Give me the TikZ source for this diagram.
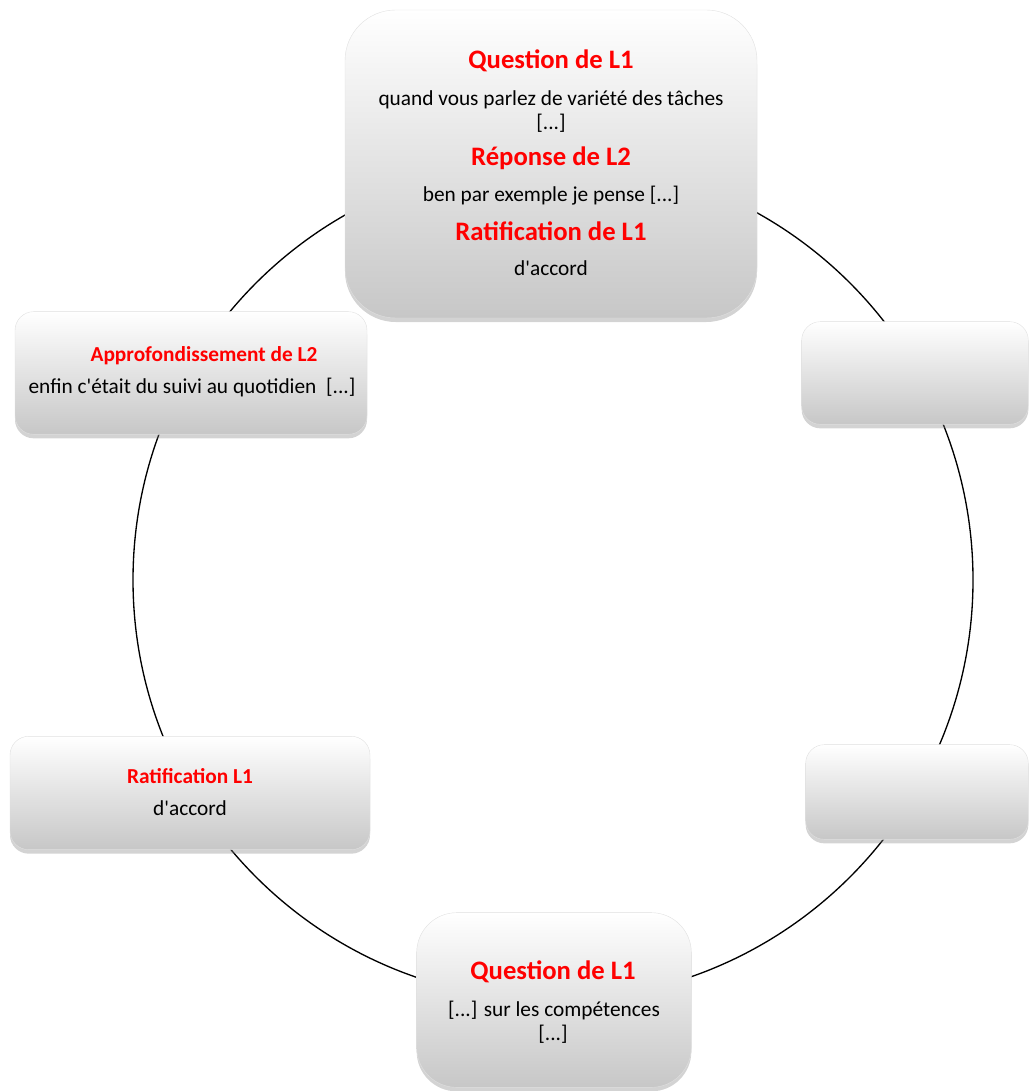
\documentclass[tikz,border=0pt]{standalone}
\usepackage{fontspec}
\setmainfont{Carlito}[Ligatures=TeXOff]
\usetikzlibrary{shadows}

\tikzset{
  boite/.style={rounded corners=#1, top color=white, bottom color=black!22,
    draw=black!12, line width=0.3pt, inner sep=0pt,
    drop shadow={opacity=0.35, shadow xshift=0pt, shadow yshift=-3pt}},
  boite/.default=14pt,
  titre/.style={text=red, font=\bfseries\fontsize{20}{24}\selectfont, inner sep=0pt},
  petittitre/.style={text=red, font=\bfseries\fontsize{16}{19}\selectfont, inner sep=0pt},
  texte/.style={font=\fontsize{16}{19}\selectfont, inner sep=0pt},
  cercle/.style={draw=black, line width=1pt}
}

\begin{document}
\begin{tikzpicture}[x=0.75pt,y=-0.75pt]
\useasboundingbox (0,0) rectangle (1028,1091);

\draw[cercle] (553,580) circle [radius=420];

% boites
\node[boite=38pt, minimum width=309pt, minimum height=231pt] (haut) at (551,164) {};
\node[boite=14pt, minimum width=264pt, minimum height=92pt] (gauchehaut) at (191,373) {};
\node[boite=14pt, minimum width=170pt, minimum height=77pt] (droitehaut) at (915,373) {};
\node[boite=14pt, minimum width=270pt, minimum height=85pt] (gauchebas) at (190,793) {};
\node[boite=14pt, minimum width=167pt, minimum height=71pt] (droitebas) at (917,792) {};
\node[boite=30pt, minimum width=206pt, minimum height=131pt] (bas) at (554,1000) {};

% textes
\node[titre] (q1) at (551,61) {Question de L1};
\node[texte] (q1a) at (551,100) {quand vous parlez de variété des tâches};
\node[texte] (q1b) at (551,123) {[...]};
\node[titre] (r2) at (551,158) {Réponse de L2};
\node[texte] (r2a) at (551,196) {ben par exemple je pense [...]};
\node[titre] (rat1) at (551,231) {Ratification de L1};
\node[texte] (rat1a) at (551,268) {d'accord};

\node[petittitre] (app) at (204,356) {Approfondissement de L2};
\node[texte] (appa) at (192,388) {enfin c'était du suivi au quotidien~~[...]};

\node[petittitre] (rat2) at (190,776) {Ratification L1};
\node[texte] (rat2a) at (190,808) {d'accord};

\node[titre] (q2) at (553,972) {Question de L1};
\node[texte] (q2a) at (554,1010) {[...] sur les compétences};
\node[texte] (q2b) at (553,1034) {[...]};
\end{tikzpicture}
\end{document}
